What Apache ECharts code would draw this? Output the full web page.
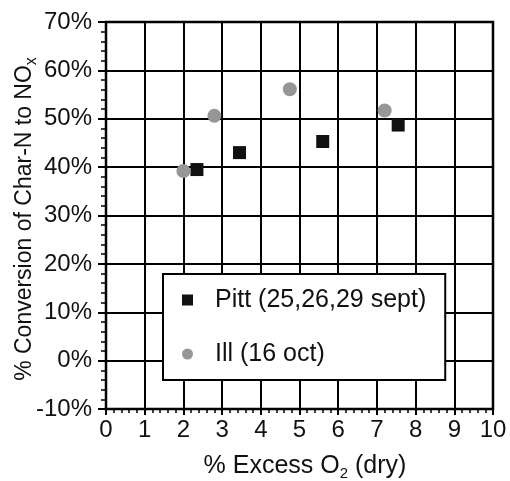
<!DOCTYPE html>
<html>
<head>
<meta charset="utf-8">
<script src="https://cdn.jsdelivr.net/npm/echarts@6/dist/echarts.min.js"></script>
<style>html,body{margin:0;padding:0;background:#fff}#c{width:510px;height:481px}</style>
</head>
<body>
<div id="c"></div>
<script>
const seriesNames = ['Pitt (25,26,29 sept)', 'Ill (16 oct)'];
const pittX = [2.35, 3.45, 5.6, 7.55];
const pittY = [39.5, 43.0, 45.3, 48.7];
const illX = [2.0, 2.8, 4.75, 7.2];
const illY = [39.2, 50.6, 56.1, 51.7];
const xMin = 0, xMax = 10, xStep = 1;
const yMin = -10, yMax = 70, yStep = 10;

const FONT = '"Liberation Sans", Arial, Helvetica, sans-serif';
const chart = echarts.init(document.getElementById('c'), null, {renderer: 'canvas'});
const pair = (xs, ys) => xs.map((x, i) => [x, ys[i]]);

chart.setOption({
  animation: false,
  backgroundColor: '#fff',
  textStyle: {fontFamily: FONT},
  grid: {left: 106, right: 17, top: 22, bottom: 72, show: true, borderColor: '#000', borderWidth: 2.5, backgroundColor: 'transparent'},
  xAxis: {
    type: 'value', min: xMin, max: xMax, interval: xStep,
    axisLine: {show: true, onZero: false, lineStyle: {color: '#000', width: 2}},
    axisTick: {show: true, inside: false, length: 6, lineStyle: {color: '#000', width: 2}},
    minorTick: {show: true, splitNumber: 5, length: 4, lineStyle: {color: '#000', width: 1.5}},
    splitLine: {show: true, lineStyle: {color: '#000', width: 2}},
    axisLabel: {color: '#111', fontSize: 24, fontFamily: FONT, margin: 9}
  },
  yAxis: {
    type: 'value', min: yMin, max: yMax, interval: yStep,
    axisLine: {show: true, onZero: false, lineStyle: {color: '#000', width: 2}},
    axisTick: {show: true, inside: false, length: 8, lineStyle: {color: '#000', width: 2}},
    minorTick: {show: true, splitNumber: 5, length: 5, lineStyle: {color: '#000', width: 1.5}},
    splitLine: {show: true, lineStyle: {color: '#000', width: 2}},
    axisLabel: {color: '#111', fontSize: 24, fontFamily: FONT, margin: 14, formatter: v => v + '%'}
  },
  legend: {
    orient: 'vertical', left: 163, top: 274,
    itemWidth: 11, itemHeight: 11, itemGap: 28,
    padding: [13, 19, 13, 19],
    backgroundColor: '#fff', borderColor: '#000', borderWidth: 2,
    textStyle: {fontSize: 25, fontFamily: FONT, color: '#111', lineHeight: 26, padding: [0, 0, 0, 17]},
    data: seriesNames
  },
  series: [
    {name: seriesNames[0], type: 'scatter', symbol: 'rect', symbolSize: 13,
     itemStyle: {color: '#111', opacity: 1}, data: pair(pittX, pittY), z: 3},
    {name: seriesNames[1], type: 'scatter', symbol: 'circle', symbolSize: 14,
     itemStyle: {color: '#969696', opacity: 1}, data: pair(illX, illY), z: 4}
  ],
  graphic: [
    {type: 'text', x: 305, y: 466, style: {
      text: '{a|% Excess O}{s|2}{a| (dry)}',
      align: 'center', verticalAlign: 'middle', fill: '#111',
      rich: {
        a: {fontSize: 25, fontFamily: FONT, lineHeight: 30, fill: '#111'},
        s: {fontSize: 15, fontFamily: FONT, lineHeight: 13, verticalAlign: 'bottom', fill: '#111'}
      }
    }},
    {type: 'text', x: 25, y: 219, rotation: Math.PI / 2, style: {
      text: '{a|% Conversion of Char-N to NO}{s|x}',
      align: 'center', verticalAlign: 'middle', fill: '#111',
      rich: {
        a: {fontSize: 23, fontFamily: FONT, lineHeight: 30, fill: '#111'},
        s: {fontSize: 16, fontFamily: FONT, lineHeight: 13, verticalAlign: 'bottom', fill: '#111'}
      }
    }}
  ]
});
</script>
</body>
</html>
